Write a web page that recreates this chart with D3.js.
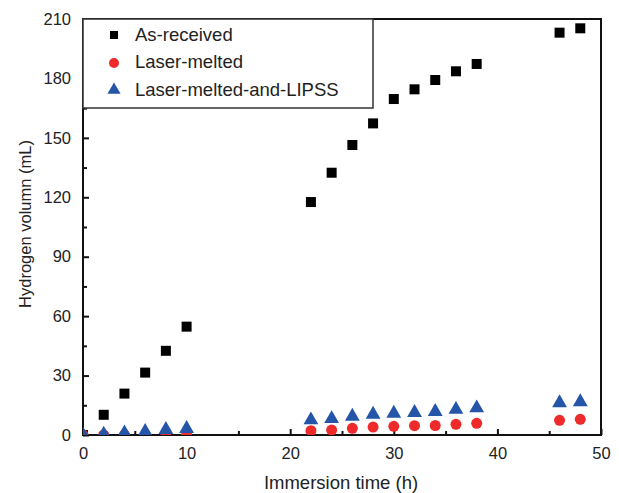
<!DOCTYPE html>
<html>
<head>
<meta charset="utf-8">
<script src="https://cdn.jsdelivr.net/npm/d3@7"></script>
<style>
  body { margin: 0; background: #fff; }
  svg text { font-family: "Liberation Sans", Arial, sans-serif; fill: #222; }
</style>
</head>
<body>
<div id="chart"></div>
<script>
// immersion time (h)
const times = [0, 2, 4, 6, 8, 10, 22, 24, 26, 28, 30, 32, 34, 36, 38, 46, 48];
const asReceived = [0, 10.2, 20.9, 31.5, 42.5, 54.7, 117.6, 132.4, 146.4, 157.3, 169.6, 174.5, 179.2, 183.6, 187.3, 203.1, 205.3];
const laserMelted = [0, 0, 0, 0, 0, 0, 2.2, 2.5, 3.4, 4.0, 4.4, 4.7, 4.8, 5.4, 5.9, 7.4, 7.9];
const laserLipss = [0, 0.4, 1.0, 1.7, 2.7, 3.2, 7.6, 8.2, 9.4, 10.4, 10.9, 11.3, 11.8, 12.9, 13.6, 16.2, 16.7];
const xTicks = [0, 10, 20, 30, 40, 50];
const yTicks = [0, 30, 60, 90, 120, 150, 180, 210];
const seriesNames = ["As-received", "Laser-melted", "Laser-melted-and-LIPSS"];

const width = 619, height = 493;
const margin = {top: 19, right: 18, bottom: 58, left: 83};

const svg = d3.select("#chart").append("svg")
  .attr("width", width)
  .attr("height", height);

const x = d3.scaleLinear().domain([0, 50]).range([margin.left, width - margin.right]);
const y = d3.scaleLinear().domain([0, 210]).range([height - margin.bottom, margin.top]);

const innerW = width - margin.left - margin.right;
const innerH = height - margin.top - margin.bottom;

svg.append("defs").append("clipPath").attr("id", "plot-clip")
  .append("rect")
  .attr("x", margin.left).attr("y", margin.top)
  .attr("width", innerW).attr("height", innerH);

// minor ticks (inward, short)
const xMinor = d3.range(5, 50, 10);
const yMinor = d3.range(15, 210, 30);

const bottomAxis = svg.append("g")
  .attr("transform", `translate(0, ${y(0)})`)
  .call(d3.axisBottom(x).tickValues(xTicks).tickSize(-6).tickPadding(12));
svg.append("g")
  .attr("transform", `translate(0, ${y(0)})`)
  .call(d3.axisBottom(x).tickValues(xMinor).tickSize(-4).tickFormat(""))
  .select(".domain").remove();

const leftAxis = svg.append("g")
  .attr("transform", `translate(${margin.left}, 0)`)
  .call(d3.axisLeft(y).tickValues(yTicks).tickSize(-6).tickPadding(12));
svg.append("g")
  .attr("transform", `translate(${margin.left}, 0)`)
  .call(d3.axisLeft(y).tickValues(yMinor).tickSize(-4).tickFormat(""))
  .select(".domain").remove();

svg.selectAll(".tick line").attr("stroke", "#111").attr("stroke-width", 2);
svg.selectAll(".tick text").style("font-size", "16.5px").attr("fill", "#222");
bottomAxis.selectAll(".domain").remove();
leftAxis.selectAll(".domain").remove();

// frame
svg.append("rect")
  .attr("x", margin.left).attr("y", margin.top)
  .attr("width", innerW).attr("height", innerH)
  .attr("fill", "none")
  .attr("stroke", "#111")
  .attr("stroke-width", 2);

// axis titles
svg.append("text")
  .attr("x", 341)
  .attr("y", 489)
  .attr("text-anchor", "middle")
  .style("font-size", "18.5px")
  .text("Immersion time (h)");

svg.append("text")
  .attr("transform", `translate(31, 224) rotate(-90)`)
  .attr("text-anchor", "middle")
  .style("font-size", "16.5px")
  .text("Hydrogen volumn (mL)");

const marks = svg.append("g").attr("clip-path", "url(#plot-clip)");

const sq = 10;
marks.selectAll("rect.as-received")
  .data(times.map((t, i) => ({t, v: asReceived[i]})))
  .enter().append("rect")
  .attr("class", "as-received")
  .attr("x", d => x(d.t) - sq / 2)
  .attr("y", d => y(d.v) - sq / 2)
  .attr("width", sq).attr("height", sq)
  .attr("fill", "#000");

marks.selectAll("circle.laser-melted")
  .data(times.map((t, i) => ({t, v: laserMelted[i]})))
  .enter().append("circle")
  .attr("class", "laser-melted")
  .attr("cx", d => x(d.t))
  .attr("cy", d => y(d.v))
  .attr("r", 5.5)
  .attr("fill", "#ee2a2a");

const tri = d3.symbol().type(d3.symbolTriangle).size(95);
marks.selectAll("path.lipss")
  .data(times.map((t, i) => ({t, v: laserLipss[i]})))
  .enter().append("path")
  .attr("class", "lipss")
  .attr("d", tri)
  .attr("transform", d => `translate(${x(d.t)}, ${y(d.v)})`)
  .attr("fill", "#2455a8");

// legend
const legend = svg.append("g");
legend.append("rect")
  .attr("x", margin.left).attr("y", margin.top)
  .attr("width", 290).attr("height", 89)
  .attr("fill", "#fff")
  .attr("stroke", "#333")
  .attr("stroke-width", 1.5);

const rows = [35, 62, 90];
legend.append("rect")
  .attr("x", 110).attr("y", rows[0] - 4)
  .attr("width", 8).attr("height", 8)
  .attr("fill", "#000");
legend.append("circle")
  .attr("cx", 114).attr("cy", rows[1] + 1)
  .attr("r", 5)
  .attr("fill", "#ee2a2a");
legend.append("path")
  .attr("d", d3.symbol().type(d3.symbolTriangle).size(75))
  .attr("transform", `translate(114, ${rows[2]})`)
  .attr("fill", "#2455a8");

legend.selectAll("text.lbl")
  .data(seriesNames)
  .enter().append("text")
  .attr("class", "lbl")
  .attr("x", 135)
  .attr("y", (d, i) => rows[i])
  .attr("dy", "0.35em")
  .style("font-size", "18.5px")
  .text(d => d);
</script>
</body>
</html>
